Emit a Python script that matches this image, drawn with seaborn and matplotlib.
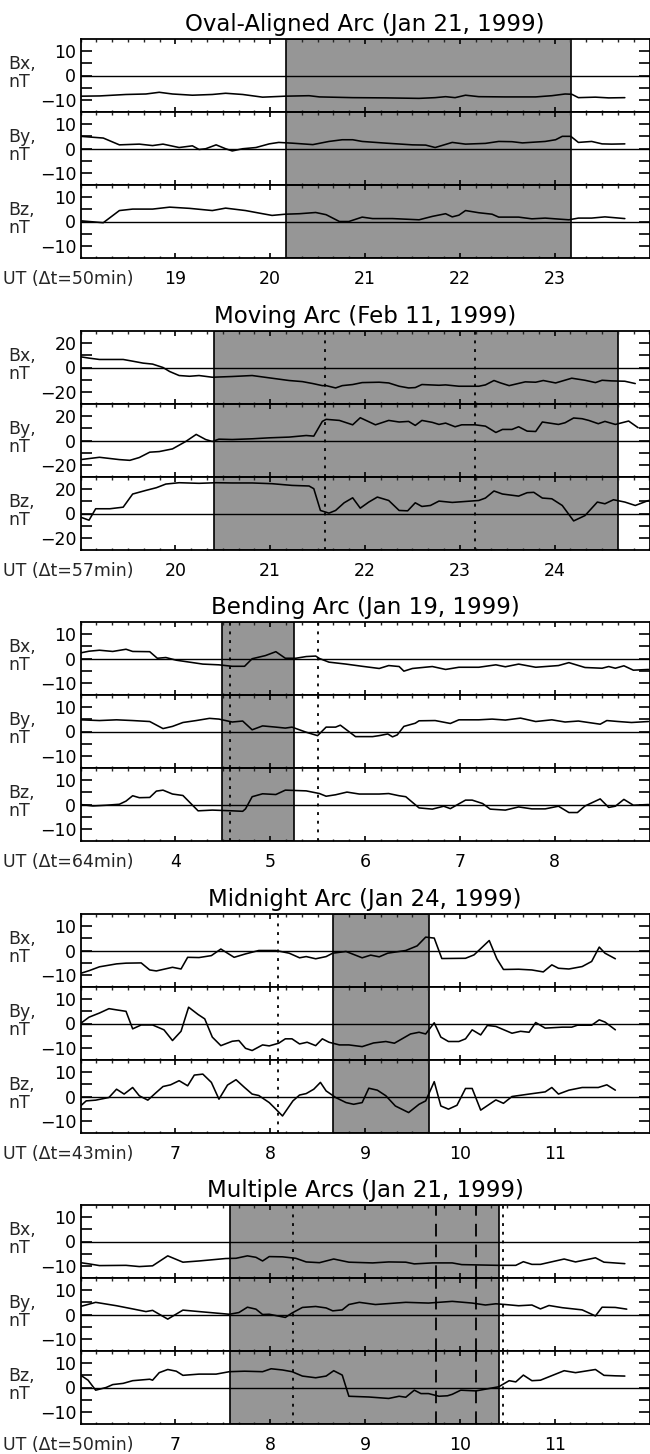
import matplotlib
matplotlib.use("Agg")
import matplotlib.pyplot as plt
from matplotlib.ticker import FixedLocator, MultipleLocator
import seaborn as sns
import pandas as pd

# ---------------- data (UT hours, nT) ----------------
titles = ["Oval-Aligned Arc (Jan 21, 1999)", "Moving Arc (Feb 11, 1999)",
          "Bending Arc (Jan 19, 1999)", "Midnight Arc (Jan 24, 1999)",
          "Multiple Arcs (Jan 21, 1999)"]
dt_minutes = [50, 57, 64, 43, 50]
x_start = [18, 19, 3, 6, 6]
y_half = [15, 30, 15, 15, 15]
shade = [(20.17, 23.17), (20.41, 24.67), (4.495, 5.25), (8.66, 9.67), (7.58, 10.41)]
dotted = [[], [21.58, 23.165], [4.58, 5.50], [8.08], [8.24, 10.45]]
dashed = [[], [], [], [], [9.75, 10.17]]
comp_labels = ["Bx,\nnT", "By,\nnT", "Bz,\nnT"]

oval_bx = [(18.00,-8.5),(18.20,-8.4),(18.48,-7.8),(18.69,-7.6),(18.83,-6.9),(18.97,-7.6),(19.18,-8.1),(19.39,-7.8),
           (19.53,-7.3),(19.71,-7.8),(19.92,-8.9),(20.16,-8.5),(20.41,-8.3),(20.52,-8.8),(20.87,-9.1),(21.22,-9.2),
           (21.57,-9.4),(21.74,-9.1),(21.85,-8.7),(21.95,-9.1),(22.06,-8.1),(22.20,-8.7),(22.48,-8.8),(22.80,-8.8),
           (22.97,-8.3),(23.11,-7.6),(23.18,-7.7),(23.25,-9.1),(23.43,-8.9),(23.57,-9.2),(23.74,-9.1)]
oval_by = [(18.00,5.0),(18.24,4.3),(18.41,1.5),(18.62,1.8),(18.76,1.2),(18.87,1.8),(19.04,0.4),(19.18,1.1),(19.25,-0.4),
           (19.32,-0.1),(19.43,1.5),(19.53,-0.1),(19.60,-1.0),(19.71,-0.1),(19.85,0.4),(19.99,1.9),(20.09,2.5),(20.23,2.2),
           (20.45,1.6),(20.62,2.9),(20.76,3.6),(20.87,3.6),(20.97,2.9),(21.22,2.2),(21.50,1.5),(21.64,1.4),(21.74,0.4),
           (21.92,2.5),(22.06,1.8),(22.27,2.1),(22.41,2.9),(22.55,2.8),(22.66,2.3),(22.90,2.9),(23.01,3.6),(23.08,5.0),
           (23.17,5.0),(23.25,2.5),(23.39,2.9),(23.50,1.9),(23.60,1.8),(23.74,1.9)]
oval_bz = [(18.00,0.3),(18.24,-0.5),(18.41,4.5),(18.55,5.1),(18.76,5.1),(18.94,5.9),(19.15,5.4),(19.39,4.5),(19.53,5.5),
           (19.74,4.5),(19.92,3.2),(20.02,2.5),(20.16,3.0),(20.31,3.2),(20.48,3.7),(20.59,2.8),(20.66,1.4),(20.73,0.0),
           (20.83,0.0),(20.97,1.8),(21.08,1.2),(21.29,1.2),(21.57,0.7),(21.71,2.1),(21.85,3.2),(21.92,1.9),(21.99,2.6),
           (22.06,4.5),(22.20,3.6),(22.34,3.0),(22.41,1.8),(22.62,1.8),(22.76,1.1),(22.90,1.4),(23.04,1.0),(23.15,0.7),
           (23.25,1.4),(23.39,1.4),(23.53,1.9),(23.74,1.2)]

moving_bx = [(19.00,8.8),(19.09,7.7),(19.20,6.6),(19.45,6.6),(19.55,5.2),(19.66,3.6),(19.76,2.8),(19.87,0.0),(19.94,-3.3),
             (20.04,-6.6),(20.15,-7.2),(20.25,-6.6),(20.39,-8.0),(20.60,-7.4),(20.81,-6.6),(20.99,-8.5),(21.20,-10.7),
             (21.34,-11.6),(21.45,-13.2),(21.55,-14.9),(21.59,-14.9),(21.69,-16.8),(21.76,-14.9),(21.87,-14.0),(21.97,-12.4),
             (22.15,-12.1),(22.25,-12.7),(22.36,-15.4),(22.46,-16.8),(22.53,-16.5),(22.60,-14.0),(22.78,-14.6),(22.85,-14.3),
             (22.99,-15.4),(23.20,-15.4),(23.27,-14.3),(23.36,-10.7),(23.43,-12.7),(23.52,-14.9),(23.69,-11.8),(23.80,-12.1),
             (23.88,-10.7),(24.01,-12.7),(24.18,-8.8),(24.32,-10.5),(24.43,-12.4),(24.50,-10.5),(24.60,-11.0),(24.74,-11.3),
             (24.85,-13.2)]
moving_by = [(19.00,-15.7),(19.20,-13.8),(19.41,-15.7),(19.52,-16.3),(19.62,-14.0),(19.73,-9.6),(19.83,-9.1),(19.97,-6.9),
             (20.11,-0.8),(20.22,5.0),(20.32,0.8),(20.39,-0.8),(20.46,1.1),(20.60,0.8),(20.81,1.4),(20.99,2.2),(21.20,2.8),
             (21.38,4.1),(21.46,3.6),(21.55,15.7),(21.59,17.4),(21.73,16.5),(21.87,12.9),(21.95,18.7),(22.11,12.9),
             (22.25,16.5),(22.36,15.2),(22.46,15.7),(22.53,12.4),(22.60,16.5),(22.71,14.9),(22.78,13.2),(22.85,14.3),
             (22.95,11.3),(23.02,12.9),(23.16,12.9),(23.27,11.8),(23.38,6.6),(23.45,9.1),(23.55,9.1),(23.62,11.3),
             (23.71,7.7),(23.80,7.4),(23.87,15.2),(24.04,13.2),(24.11,14.6),(24.20,18.5),(24.29,17.9),(24.36,16.5),
             (24.46,13.8),(24.53,15.7),(24.64,13.2),(24.78,16.0),(24.88,10.5)]
moving_bz = [(19.00,-3.0),(19.09,-5.5),(19.16,3.9),(19.31,3.9),(19.45,5.2),(19.55,16.0),(19.69,19.0),(19.80,21.2),
             (19.90,24.2),(20.04,25.3),(20.25,24.8),(20.43,25.3),(20.60,25.1),(20.81,25.1),(21.02,24.5),(21.23,23.1),
             (21.41,22.6),(21.46,20.4),(21.53,2.5),(21.62,0.3),(21.69,2.5),(21.78,8.8),(21.87,12.9),(21.95,4.4),
             (22.04,9.4),(22.13,13.5),(22.25,10.7),(22.36,2.5),(22.45,2.2),(22.53,8.8),(22.60,5.8),(22.69,6.6),
             (22.78,10.2),(22.92,9.1),(23.20,10.7),(23.27,12.7),(23.36,18.5),(23.45,16.0),(23.62,14.3),(23.71,17.1),
             (23.78,17.4),(23.87,12.7),(23.97,12.1),(24.08,6.6),(24.20,-6.1),(24.32,-1.7),(24.45,9.4),(24.53,8.0),
             (24.62,11.3),(24.74,9.4),(24.85,6.6),(24.99,10.7)]

bending_bx = [(3.00,2.3),(3.09,3.0),(3.20,3.4),(3.34,2.9),(3.48,3.8),(3.55,2.9),(3.73,2.8),(3.81,0.1),(3.90,0.4),
              (4.01,-0.7),(4.15,-1.5),(4.29,-2.3),(4.46,-2.6),(4.60,-3.2),(4.73,-3.2),(4.81,-0.1),(4.95,1.2),(5.06,2.8),
              (5.16,0.1),(5.27,0.1),(5.38,0.8),(5.48,1.0),(5.52,0.0),(5.62,-1.5),(5.80,-2.3),(5.97,-3.2),(6.15,-4.1),
              (6.25,-2.9),(6.36,-3.3),(6.41,-5.2),(6.50,-4.1),(6.71,-3.3),(6.85,-4.5),(6.99,-3.6),(7.20,-3.6),(7.38,-2.6),
              (7.48,-3.4),(7.62,-2.3),(7.80,-3.6),(8.04,-2.9),(8.15,-1.7),(8.32,-3.7),(8.50,-4.0),(8.57,-3.3),(8.64,-4.0),
              (8.73,-3.0),(8.83,-4.8),(8.99,-4.5)]
bending_by = [(3.00,4.8),(3.20,4.5),(3.38,4.8),(3.55,4.5),(3.73,4.1),(3.87,1.2),(3.97,2.1),(4.08,3.7),(4.22,4.5),
              (4.36,5.4),(4.46,5.1),(4.60,3.9),(4.71,4.3),(4.81,0.7),(4.92,2.3),(5.06,1.8),(5.16,1.4),(5.23,1.8),
              (5.38,-0.3),(5.50,-1.7),(5.59,1.8),(5.69,1.8),(5.74,2.6),(5.90,-2.1),(6.08,-2.1),(6.15,-1.7),(6.24,-1.0),
              (6.29,-2.2),(6.34,-1.4),(6.41,2.1),(6.53,3.4),(6.57,4.4),(6.74,4.5),(6.90,3.3),(6.99,4.8),(7.20,4.8),
              (7.34,5.1),(7.48,4.7),(7.64,5.5),(7.80,4.1),(7.97,4.8),(8.11,3.9),(8.25,4.3),(8.48,3.0),(8.55,4.5),
              (8.67,4.1),(8.81,3.7),(8.99,4.1)]
bending_bz = [(3.00,0.0),(3.13,-0.6),(3.27,-0.3),(3.41,0.1),(3.48,1.4),(3.55,3.6),(3.62,2.8),(3.73,2.9),(3.80,5.5),
              (3.87,5.9),(3.97,4.3),(4.08,3.7),(4.24,-2.6),(4.39,-2.3),(4.60,-2.6),(4.71,-2.8),(4.74,-1.8),(4.81,3.2),
              (4.92,4.4),(5.06,4.1),(5.16,5.9),(5.38,5.6),(5.52,4.5),(5.59,3.4),(5.69,4.0),(5.81,5.1),(5.94,4.3),
              (6.15,4.3),(6.25,4.5),(6.36,3.6),(6.43,3.2),(6.57,-1.4),(6.71,-1.9),(6.83,-0.7),(6.90,-1.7),(7.06,1.8),
              (7.13,1.8),(7.24,0.4),(7.32,-1.9),(7.48,-2.3),(7.62,-1.0),(7.76,-1.8),(7.90,-1.8),(8.04,-0.7),(8.15,-3.3),
              (8.24,-3.3),(8.32,-0.6),(8.48,2.3),(8.57,-1.2),(8.64,-0.7),(8.73,2.1),(8.83,-0.3),(8.99,0.0)]

midnight_bx = [(6.00,-9.4),(6.09,-8.3),(6.20,-6.7),(6.38,-5.5),(6.48,-5.2),(6.64,-5.1),(6.73,-8.0),(6.80,-8.4),
               (6.97,-6.9),(7.06,-7.6),(7.13,-2.8),(7.25,-2.9),(7.38,-2.1),(7.48,0.6),(7.62,-2.8),(7.74,-1.4),(7.88,0.0),
               (8.06,0.0),(8.20,-1.1),(8.31,-3.0),(8.38,-2.5),(8.48,-3.4),(8.59,-2.5),(8.66,-1.1),(8.80,-0.4),(8.97,-3.0),
               (9.06,-1.9),(9.15,-2.6),(9.24,-1.1),(9.43,0.0),(9.55,1.9),(9.64,5.5),(9.73,5.1),(9.81,-3.3),(10.06,-3.2),
               (10.15,-1.8),(10.31,4.1),(10.39,-3.4),(10.46,-7.8),(10.62,-7.7),(10.76,-8.0),(10.88,-8.8),(10.97,-5.9),
               (11.04,-7.3),(11.15,-7.6),(11.29,-6.6),(11.39,-4.5),(11.47,1.4),(11.53,-1.1),(11.64,-3.4)]
midnight_by = [(6.00,0.0),(6.09,2.6),(6.20,4.3),(6.30,6.1),(6.38,5.6),(6.48,5.0),(6.55,-2.2),(6.64,-0.6),(6.76,-0.6),
               (6.88,-2.6),(6.97,-7.0),(7.06,-3.2),(7.14,6.7),(7.24,3.7),(7.31,1.9),(7.39,-5.6),(7.48,-9.1),(7.60,-7.3),
               (7.67,-7.0),(7.74,-10.2),(7.81,-11.1),(7.92,-8.8),(7.99,-9.2),(8.09,-8.1),(8.16,-6.3),(8.23,-6.3),
               (8.31,-8.4),(8.39,-7.7),(8.48,-9.1),(8.55,-6.3),(8.62,-7.7),(8.73,-8.8),(8.83,-8.8),(8.97,-9.5),(9.09,-8.0),
               (9.22,-7.4),(9.31,-8.1),(9.48,-4.3),(9.57,-3.6),(9.64,-4.3),(9.73,0.3),(9.80,-5.6),(9.88,-7.4),(9.99,-7.4),
               (10.06,-6.3),(10.13,-2.6),(10.22,-4.7),(10.29,-0.8),(10.38,-1.2),(10.55,-4.0),(10.64,-3.2),(10.73,-3.6),
               (10.80,0.4),(10.90,-1.9),(11.08,-1.5),(11.18,-1.5),(11.24,-0.7),(11.39,-0.7),(11.47,1.5),(11.53,0.6),
               (11.64,-2.6)]
midnight_bz = [(6.00,-3.9),(6.06,-1.8),(6.16,-1.5),(6.30,-0.4),(6.38,3.0),(6.46,1.0),(6.55,3.7),(6.62,0.3),(6.71,-1.5),
               (6.80,1.7),(6.87,4.1),(6.95,4.8),(7.04,6.5),(7.13,4.4),(7.20,8.8),(7.29,9.2),(7.38,5.8),(7.46,-1.1),
               (7.55,4.7),(7.64,6.9),(7.73,3.7),(7.81,1.0),(7.88,0.4),(7.99,-2.5),(8.06,-5.2),(8.13,-8.0),(8.24,-1.8),
               (8.31,0.6),(8.38,1.2),(8.46,3.0),(8.53,5.8),(8.59,2.3),(8.69,-0.4),(8.80,-2.5),(8.88,-3.2),(8.97,-2.5),
               (9.04,3.4),(9.13,2.6),(9.22,0.3),(9.32,-3.9),(9.46,-6.6),(9.57,-3.2),(9.64,-1.8),(9.73,6.1),(9.80,-3.9),
               (9.88,-5.2),(9.97,-3.6),(10.06,3.3),(10.13,3.3),(10.22,-5.6),(10.38,-1.4),(10.46,-2.8),(10.55,0.0),
               (10.73,1.0),(10.90,1.9),(10.97,3.7),(11.04,1.0),(11.15,2.6),(11.29,3.7),(11.46,3.7),(11.55,4.8),(11.64,2.6)]

multiple_bx = [(6.00,-8.7),(6.09,-9.2),(6.20,-9.9),(6.48,-9.8),(6.62,-10.3),(6.76,-10.0),(6.92,-5.9),(7.08,-8.5),
               (7.25,-8.0),(7.53,-7.0),(7.64,-6.9),(7.76,-5.9),(7.85,-6.5),(7.92,-8.0),(7.99,-6.2),(8.13,-6.3),(8.27,-6.9),
               (8.38,-8.4),(8.52,-8.7),(8.59,-8.0),(8.67,-7.2),(8.83,-8.5),(9.08,-8.8),(9.25,-8.4),(9.43,-8.5),(9.52,-9.2),
               (9.71,-8.8),(9.92,-8.8),(10.02,-9.5),(10.41,-9.8),(10.59,-9.8),(10.67,-8.3),(10.76,-9.4),(10.85,-9.4),
               (11.10,-7.2),(11.22,-8.4),(11.43,-6.7),(11.52,-8.5),(11.74,-9.1)]
multiple_by = [(6.00,3.3),(6.16,5.0),(6.38,3.6),(6.55,2.3),(6.69,1.2),(6.76,1.7),(6.92,-1.9),(7.08,1.8),(7.25,1.2),
               (7.57,0.1),(7.67,0.8),(7.76,3.0),(7.85,2.2),(7.92,0.0),(7.99,0.1),(8.16,-1.2),(8.23,0.6),(8.34,2.9),
               (8.48,3.3),(8.59,2.7),(8.66,1.5),(8.76,1.9),(8.83,4.1),(8.94,5.0),(9.11,4.1),(9.43,5.0),(9.67,4.7),
               (9.92,5.4),(10.13,4.7),(10.27,3.9),(10.38,4.4),(10.48,4.1),(10.62,3.6),(10.76,3.9),(10.85,2.3),(10.94,3.7),
               (11.08,2.8),(11.29,1.9),(11.43,-0.6),(11.50,3.0),(11.64,2.9),(11.76,2.2)]
multiple_bz = [(6.00,5.1),(6.08,3.0),(6.16,-1.1),(6.27,0.0),(6.34,1.2),(6.45,1.7),(6.55,2.8),(6.73,3.4),(6.76,3.0),
               (6.83,6.1),(6.92,7.4),(7.01,6.7),(7.08,5.0),(7.25,5.5),(7.43,5.5),(7.57,6.5),(7.73,6.7),(7.92,6.5),
               (8.01,7.7),(8.13,7.2),(8.23,6.5),(8.34,4.7),(8.48,4.0),(8.59,4.7),(8.67,6.9),(8.76,5.1),(8.83,-3.6),
               (9.04,-3.9),(9.25,-4.5),(9.36,-3.6),(9.43,-4.0),(9.52,-1.1),(9.59,-2.5),(9.67,-2.5),(9.78,-3.6),
               (9.87,-3.4),(9.92,-2.8),(10.01,-1.1),(10.17,-1.4),(10.41,0.3),(10.52,2.8),(10.59,2.3),(10.67,5.1),
               (10.76,2.8),(10.85,3.0),(11.10,6.9),(11.22,6.1),(11.43,7.4),(11.52,5.0),(11.64,4.8),(11.74,4.7)]

series = [[oval_bx, oval_by, oval_bz],
          [moving_bx, moving_by, moving_bz],
          [bending_bx, bending_by, bending_bz],
          [midnight_bx, midnight_by, midnight_bz],
          [multiple_bx, multiple_by, multiple_bz]]

# ---------------- style ----------------
sns.set_theme(style="ticks")
plt.rcParams["font.family"] = ["DejaVu Sans"]
plt.rcParams["axes.unicode_minus"] = True

W, H = 650, 1454
fig = plt.figure(figsize=(W / 100, H / 100), dpi=100)
fig.patch.set_facecolor("white")

LEFT, RIGHT = 80.5, 649.5
SUB_H = 73
tops = [39, 331, 622, 914, 1205]
FS = 12.5
TITLE_FS = 16.5
XPAD = 8.5
shade_color = "#969696"

def fmt(v):
    return f"{v}".replace("-", "\u2212")

for p in range(5):
    x0 = x_start[p]
    yh = y_half[p]
    step = yh / 3
    for k in range(3):
        y0 = tops[p] + k * SUB_H
        ax = fig.add_axes([LEFT / W, 1 - (y0 + SUB_H) / H, (RIGHT - LEFT) / W, SUB_H / H])
        ax.set_facecolor("white")
        ax.axvspan(shade[p][0], shade[p][1], facecolor=shade_color, edgecolor="black",
                   linewidth=1.2, zorder=0)
        ax.axhline(0, color="black", linewidth=1.0, zorder=1)
        for xv in dotted[p]:
            ax.axvline(xv, color="black", linestyle=(0, (1.6, 3.2)), linewidth=1.3, zorder=2)
        for xv in dashed[p]:
            ax.axvline(xv, color="black", linestyle=(0, (7, 4.5)), linewidth=1.3, zorder=2)
        df = pd.DataFrame(series[p][k], columns=["ut", "b"])
        sns.lineplot(data=df, x="ut", y="b", ax=ax, color="black", linewidth=1.15,
                     estimator=None, legend=False, zorder=3)
        ax.set_xlabel("")
        ax.set_ylabel("")
        ax.set_xlim(x0, x0 + 6)
        ax.set_ylim(-yh, yh)
        # y ticks
        yt = [-2 * step, -step, 0, step, 2 * step]
        ax.yaxis.set_major_locator(FixedLocator(yt))
        ax.set_yticklabels([fmt(int(round(-2 * step))), "", "0", "", fmt(int(round(2 * step)))],
                           fontsize=FS)
        ax.tick_params(axis="y", which="major", direction="in", length=8, width=1.2,
                       left=True, right=True, pad=3, colors="black")
        # x ticks
        ax.xaxis.set_major_locator(FixedLocator(list(range(x0 + 1, x0 + 6))))
        ax.xaxis.set_minor_locator(MultipleLocator(1 / 6))
        ax.tick_params(axis="x", which="major", direction="in", length=3.5, width=1.2,
                       top=True, bottom=True, pad=XPAD, labelsize=FS, colors="black")
        ax.tick_params(axis="x", which="minor", direction="in", length=1.8, width=1.0,
                       top=True, bottom=True)
        if k < 2:
            ax.tick_params(axis="x", which="both", labelbottom=False)
        else:
            ax.set_xticklabels([str(x0 + 1 + i) for i in range(5)])
        for s in ax.spines.values():
            s.set_linewidth(1.3)
            s.set_color("black")
            s.set_zorder(5)
        # component label
        ax.text((8 - LEFT) / (RIGHT - LEFT), 0.53, comp_labels[k], transform=ax.transAxes,
                ha="left", va="center", fontsize=FS, linespacing=1.0)
        if k == 0:
            ax.set_title(titles[p], fontsize=TITLE_FS, pad=6, color="black")
        if k == 2:
            ax.annotate(f"UT (\u0394t={dt_minutes[p]}min)", xy=((3 - LEFT) / (RIGHT - LEFT), 0),
                        xycoords="axes fraction", xytext=(0, -XPAD), textcoords="offset points",
                        ha="left", va="top", fontsize=FS, annotation_clip=False)

fig.savefig("out.png", dpi=100, facecolor="white")
